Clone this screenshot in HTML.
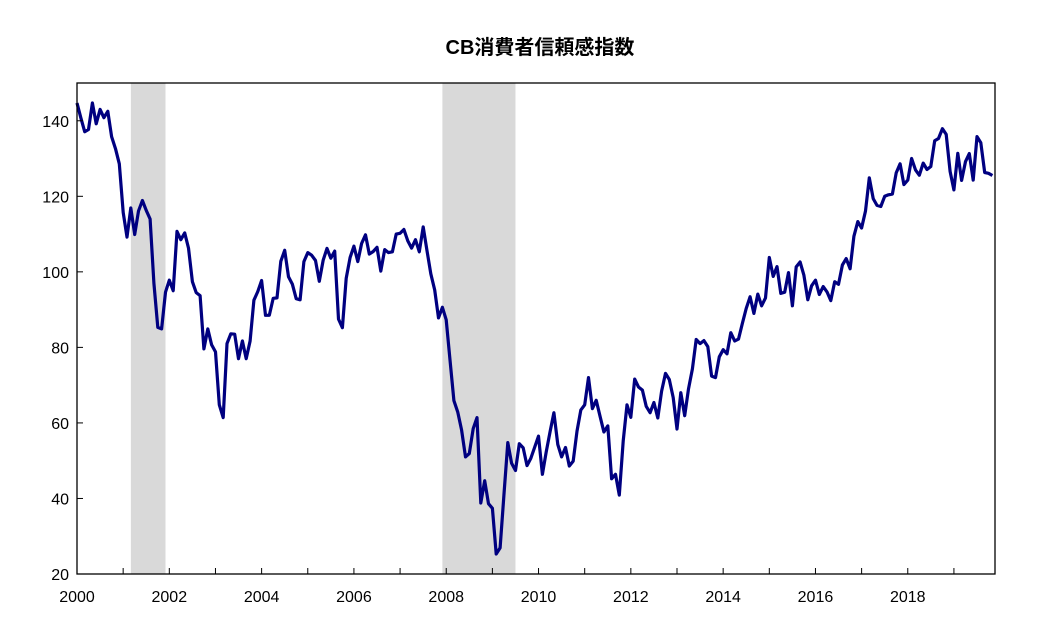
<!DOCTYPE html>
<html><head><meta charset="utf-8"><style>
body{margin:0;background:#fff;}
svg{display:block;font-family:"Liberation Sans","Noto Sans CJK JP",sans-serif;}
</style></head><body>
<svg id="chart" width="1040" height="642" viewBox="0 0 1040 642" xmlns="http://www.w3.org/2000/svg">
<text x="540" y="54" text-anchor="middle" font-size="20" font-weight="bold" fill="#000">CB消費者信頼感指数</text>
<g id="rec"></g><g id="grid"></g><path id="line" fill="none" stroke="#000080" stroke-width="3.2" stroke-linejoin="round"/>
<rect x="77" y="83" width="918" height="491" fill="none" stroke="#000" stroke-width="1.3"/>
<g id="axes"></g>
</svg>
<script>
const startYear = 2000;
const values = [
144.7,140.8,137.1,137.7,144.7,139.2,143.0,140.8,142.5,135.8,132.6,128.6,
115.7,109.2,116.9,109.9,116.1,118.9,116.3,114.0,97.0,85.3,84.9,94.6,
97.8,95.0,110.7,108.5,110.3,106.3,97.4,94.5,93.7,79.6,84.9,80.7,
78.8,64.8,61.4,81.0,83.6,83.5,77.0,81.7,77.0,81.7,92.5,94.8,
97.7,88.5,88.5,93.0,93.1,102.8,105.7,98.7,96.7,92.9,92.6,102.7,
105.1,104.4,103.0,97.5,103.1,106.2,103.6,105.5,87.5,85.2,98.3,103.8,
106.8,102.7,107.5,109.8,104.7,105.4,106.5,100.2,105.9,105.1,105.3,110.0,
110.2,111.2,108.2,106.3,108.5,105.3,111.9,105.6,99.5,95.2,87.8,90.6,
87.3,76.4,65.9,62.8,58.1,51.0,51.9,58.5,61.4,38.8,44.7,38.6,
37.4,25.3,26.9,40.8,54.8,49.3,47.4,54.5,53.4,48.7,50.6,53.6,
56.5,46.4,52.3,57.7,62.7,54.3,51.0,53.5,48.6,49.9,57.8,63.4,
64.8,72.0,63.8,66.0,61.7,57.6,59.2,45.2,46.4,40.9,55.2,64.8,
61.5,71.6,69.5,68.7,64.4,62.7,65.4,61.3,68.4,73.1,71.5,66.7,
58.4,68.0,61.9,69.0,74.3,82.1,81.0,81.8,80.2,72.4,72.0,77.5,
79.4,78.3,83.9,81.7,82.2,86.4,90.3,93.4,89.0,94.1,91.0,93.1,
103.8,98.8,101.4,94.3,94.6,99.8,91.0,101.3,102.6,99.1,92.6,96.3,
97.8,94.0,96.1,94.7,92.4,97.4,96.7,101.8,103.5,100.8,109.4,113.3,
111.6,116.1,124.9,119.4,117.6,117.3,120.0,120.4,120.6,126.2,128.6,123.1,
124.3,130.0,127.0,125.6,128.8,127.1,127.9,134.7,135.3,137.9,136.4,126.6,
121.7,131.4,124.2,129.2,131.3,124.3,135.8,134.2,126.3,126.1,125.5];
const recessionStarts = [2001.167, 2007.917];
const recessionEnds = [2001.917, 2009.5];
const yTicks = [20,40,60,80,100,120,140];
const xTickLabels = [2000,2002,2004,2006,2008,2010,2012,2014,2016,2018];

const NS="http://www.w3.org/2000/svg";
const x0=77,x1=995,y0=574,y1=83,tMin=2000,tMax=2019.89,vMin=20,vMax=150;
function xs(t){return x0+(t-tMin)/(tMax-tMin)*(x1-x0);}
function ys(v){return y0-(v-vMin)/(vMax-vMin)*(y0-y1);}
function mk(tag,attrs,parent){const e=document.createElementNS(NS,tag);for(const k in attrs)e.setAttribute(k,attrs[k]);parent.appendChild(e);return e;}
const rec=document.getElementById('rec');
recessionStarts.forEach((s,i)=>{
 const r=mk('rect',{x:xs(s),y:y1,width:xs(recessionEnds[i])-xs(s),height:y0-y1,fill:'#d9d9d9'},rec);
 
 
});
let d='';
values.forEach((v,i)=>{d+=(i?'L':'M')+xs(startYear+i/12).toFixed(1)+','+ys(v).toFixed(1);});
document.getElementById('line').setAttribute('d',d);
const ax=document.getElementById('axes');
yTicks.forEach(v=>{
 const l=mk('line',{x1:x0,x2:x0+6,y1:ys(v),y2:ys(v),stroke:'#000','stroke-width':1},ax);
 
 
 const t=mk('text',{x:x0-8,y:ys(v)+6,'text-anchor':'end','font-size':16,fill:'#000'},ax);
 t.textContent=v;
 
 
});
for(let yr=2000;yr<=2019;yr++){
 const l=mk('line',{x1:xs(yr),x2:xs(yr),y1:y0,y2:y0-6,stroke:'#000','stroke-width':1},ax);
 
 
}
xTickLabels.forEach(yr=>{
 const t=mk('text',{x:xs(yr),y:y0+28,'text-anchor':'middle','font-size':16,fill:'#000'},ax);
 t.textContent=yr;
 
 
});
</script>
</body></html>
